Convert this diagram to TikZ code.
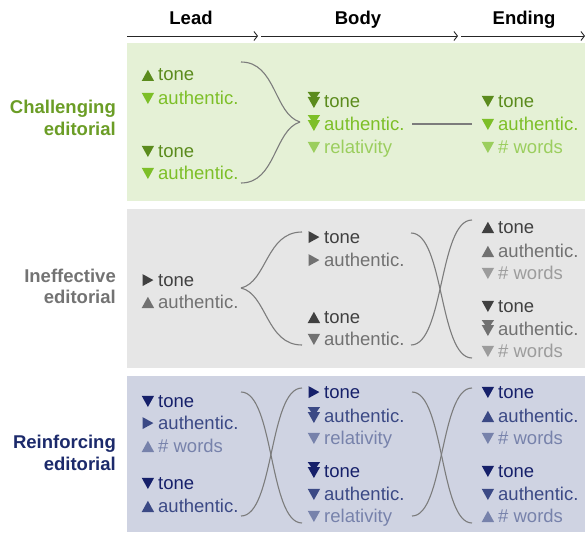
\documentclass[tikz,border=0pt]{standalone}
\usepackage{fontspec}
\setmainfont{Liberation Sans}
\usepackage{tikz}
\usetikzlibrary{arrows.meta}

\definecolor{g_dark}{HTML}{5B8B1D}
\definecolor{g_mid}{HTML}{7DBF28}
\definecolor{g_light}{HTML}{9BCE5E}
\definecolor{g_label}{HTML}{6B9D26}
\definecolor{g_bg}{HTML}{E5F1D6}
\definecolor{k_dark}{HTML}{404040}
\definecolor{k_mid}{HTML}{717171}
\definecolor{k_light}{HTML}{9C9C9C}
\definecolor{k_label}{HTML}{737373}
\definecolor{k_bg}{HTML}{E6E6E6}
\definecolor{b_dark}{HTML}{16206A}
\definecolor{b_mid}{HTML}{3B4985}
\definecolor{b_light}{HTML}{7782AB}
\definecolor{b_label}{HTML}{1C2A6B}
\definecolor{b_bg}{HTML}{CFD3E2}
\definecolor{link_gray}{HTML}{7C7C7C}

\begin{document}
\begin{tikzpicture}[x=1pt, y=-1pt,
  item_text/.style={anchor=base west, inner sep=0pt, font=\fontsize{18.5}{20}\selectfont},
  head_text/.style={anchor=base, inner sep=0pt, font=\bfseries\fontsize{18.5}{20}\selectfont},
  side_text/.style={anchor=base east, inner sep=0pt, font=\bfseries\fontsize{18.5}{20}\selectfont},
  link/.style={draw=link_gray, line width=1.1pt},
  step_arrow/.style={draw=black!85, line width=0.9pt, -{Straight Barb[length=3.5pt,width=9pt]}},
  pics/up_item/.style={code={\fill (-16.3,0) -- (-3.9,0) -- (-10.1,-11.2) -- cycle; \node[item_text] (-t) at (0,0) {#1};}},
  pics/dn_item/.style={code={\fill (-16.3,-11.2) -- (-3.9,-11.2) -- (-10.1,0) -- cycle; \node[item_text] (-t) at (0,0) {#1};}},
  pics/rt_item/.style={code={\fill (-15.3,-11.8) -- (-15.3,0) -- (-4.6,-5.9) -- cycle; \node[item_text] (-t) at (0,0) {#1};}},
  pics/dd_item/.style={code={\fill (-16.3,-15) -- (-3.9,-15) -- (-10.1,-6) -- cycle; \fill (-16.3,-10) -- (-3.9,-10) -- (-10.1,1) -- cycle; \node[item_text] (-t) at (0,0) {#1};}}]

    \useasboundingbox (0,0) rectangle (585,532);

    % panels
    \fill[g_bg] (127,43) rectangle (585,201);
    \fill[k_bg] (127,209) rectangle (585,368);
    \fill[b_bg] (127,376) rectangle (585,532);

    % header
    \node[head_text] (lead) at (191,25) {Lead};
    \node[head_text] (body) at (358,25) {Body};
    \node[head_text] (ending) at (524,25) {Ending};
    \coordinate (a0) at (127,36);
    \coordinate (a1) at (258,36);
    \coordinate (a2) at (261,36);
    \coordinate (a3) at (458,36);
    \coordinate (a4) at (461,36);
    \coordinate (a5) at (585,36);
    \draw[step_arrow] (a0) -- (a1);
    \draw[step_arrow] (a2) -- (a3);
    \draw[step_arrow] (a4) -- (a5);

    % row labels
    \node[side_text, g_label] (ch1) at (116,113) {Challenging};
    \node[side_text, g_label] (ch2) at (116,135) {editorial};
    \node[side_text, k_label] (in1) at (116,282) {Ineffective};
    \node[side_text, k_label] (in2) at (116,303) {editorial};
    \node[side_text, b_label] (re1) at (116,448) {Reinforcing};
    \node[side_text, b_label] (re2) at (116,470) {editorial};

    % challenging
    \pic[g_dark] (gl1) at (158,81) {up_item=tone};
    \pic[g_mid] (gl2) at (158,104) {dn_item=authentic.};
    \pic[g_dark] (gl3) at (158,157) {dn_item=tone};
    \pic[g_mid] (gl4) at (158,179) {dn_item=authentic.};
    \pic[g_dark] (gb1) at (324,107) {dd_item=tone};
    \pic[g_mid] (gb2) at (324,130) {dd_item=authentic.};
    \pic[g_light] (gb3) at (324,153) {dn_item=relativity};
    \pic[g_dark] (ge1) at (498,107) {dn_item=tone};
    \pic[g_mid] (ge2) at (498,130) {dn_item=authentic.};
    \pic[g_light] (ge3) at (498,153) {dn_item=\# words};

    % ineffective
    \pic[k_dark] (kl1) at (158,286) {rt_item=tone};
    \pic[k_mid] (kl2) at (158,308) {up_item=authentic.};
    \pic[k_dark] (kb1) at (324,243) {rt_item=tone};
    \pic[k_mid] (kb2) at (324,266) {rt_item=authentic.};
    \pic[k_dark] (kb3) at (324,323) {up_item=tone};
    \pic[k_mid] (kb4) at (324,345) {dn_item=authentic.};
    \pic[k_dark] (ke1) at (498,233) {up_item=tone};
    \pic[k_mid] (ke2) at (498,257) {up_item=authentic.};
    \pic[k_light] (ke3) at (498,279) {dn_item=\# words};
    \pic[k_dark] (ke4) at (498,312) {dn_item=tone};
    \pic[k_mid] (ke5) at (498,335) {dd_item=authentic.};
    \pic[k_light] (ke6) at (498,357) {dn_item=\# words};

    % reinforcing
    \pic[b_dark] (bl1) at (158,407) {dn_item=tone};
    \pic[b_mid] (bl2) at (158,429) {rt_item=authentic.};
    \pic[b_light] (bl3) at (158,452) {up_item=\# words};
    \pic[b_dark] (bl4) at (158,489) {dn_item=tone};
    \pic[b_mid] (bl5) at (158,512) {up_item=authentic.};
    \pic[b_dark] (bb1) at (324,398) {rt_item=tone};
    \pic[b_mid] (bb2) at (324,422) {dd_item=authentic.};
    \pic[b_light] (bb3) at (324,444) {dn_item=relativity};
    \pic[b_dark] (bb4) at (324,477) {dd_item=tone};
    \pic[b_mid] (bb5) at (324,500) {dn_item=authentic.};
    \pic[b_light] (bb6) at (324,522) {dn_item=relativity};
    \pic[b_dark] (be1) at (498,398) {dn_item=tone};
    \pic[b_mid] (be2) at (498,422) {up_item=authentic.};
    \pic[b_light] (be3) at (498,444) {dn_item=\# words};
    \pic[b_dark] (be4) at (498,477) {dn_item=tone};
    \pic[b_mid] (be5) at (498,500) {dn_item=authentic.};
    \pic[b_light] (be6) at (498,522) {up_item=\# words};

    % link ends
    \coordinate (g1) at (241,62);
    \coordinate (g2) at (241,183);
    \coordinate (g3) at (300,122);
    \coordinate (g4) at (412,124);
    \coordinate (g5) at (472,124);
    \coordinate (k1) at (241,288);
    \coordinate (k2) at (302,232);
    \coordinate (k3) at (302,345);
    \coordinate (k4) at (411,233);
    \coordinate (k5) at (411,345);
    \coordinate (k6) at (472,220);
    \coordinate (k7) at (472,358);
    \coordinate (b1) at (241,392);
    \coordinate (b2) at (241,516);
    \coordinate (b3) at (302,388);
    \coordinate (b4) at (302,523);
    \coordinate (b5) at (412,392);
    \coordinate (b6) at (412,516);
    \coordinate (b7) at (472,388);
    \coordinate (b8) at (472,523);

    \draw[link] (g1) .. controls (276,62) and (274,114) .. (g3);
    \draw[link] (g2) .. controls (276,183) and (274,130) .. (g3);
    \draw[link] (g4) -- (g5);

    \draw[link] (k1) .. controls (267,282) and (266,232) .. (k2);
    \draw[link] (k1) .. controls (267,294) and (266,345) .. (k3);
    \draw[link] (k4) .. controls (444,233) and (439,358) .. (k7);
    \draw[link] (k5) .. controls (444,345) and (439,220) .. (k6);

    \draw[link] (b1) .. controls (274,392) and (269,523) .. (b4);
    \draw[link] (b2) .. controls (274,516) and (269,388) .. (b3);
    \draw[link] (b5) .. controls (444,392) and (440,523) .. (b8);
    \draw[link] (b6) .. controls (444,516) and (440,388) .. (b7);

\end{tikzpicture}
\end{document}
